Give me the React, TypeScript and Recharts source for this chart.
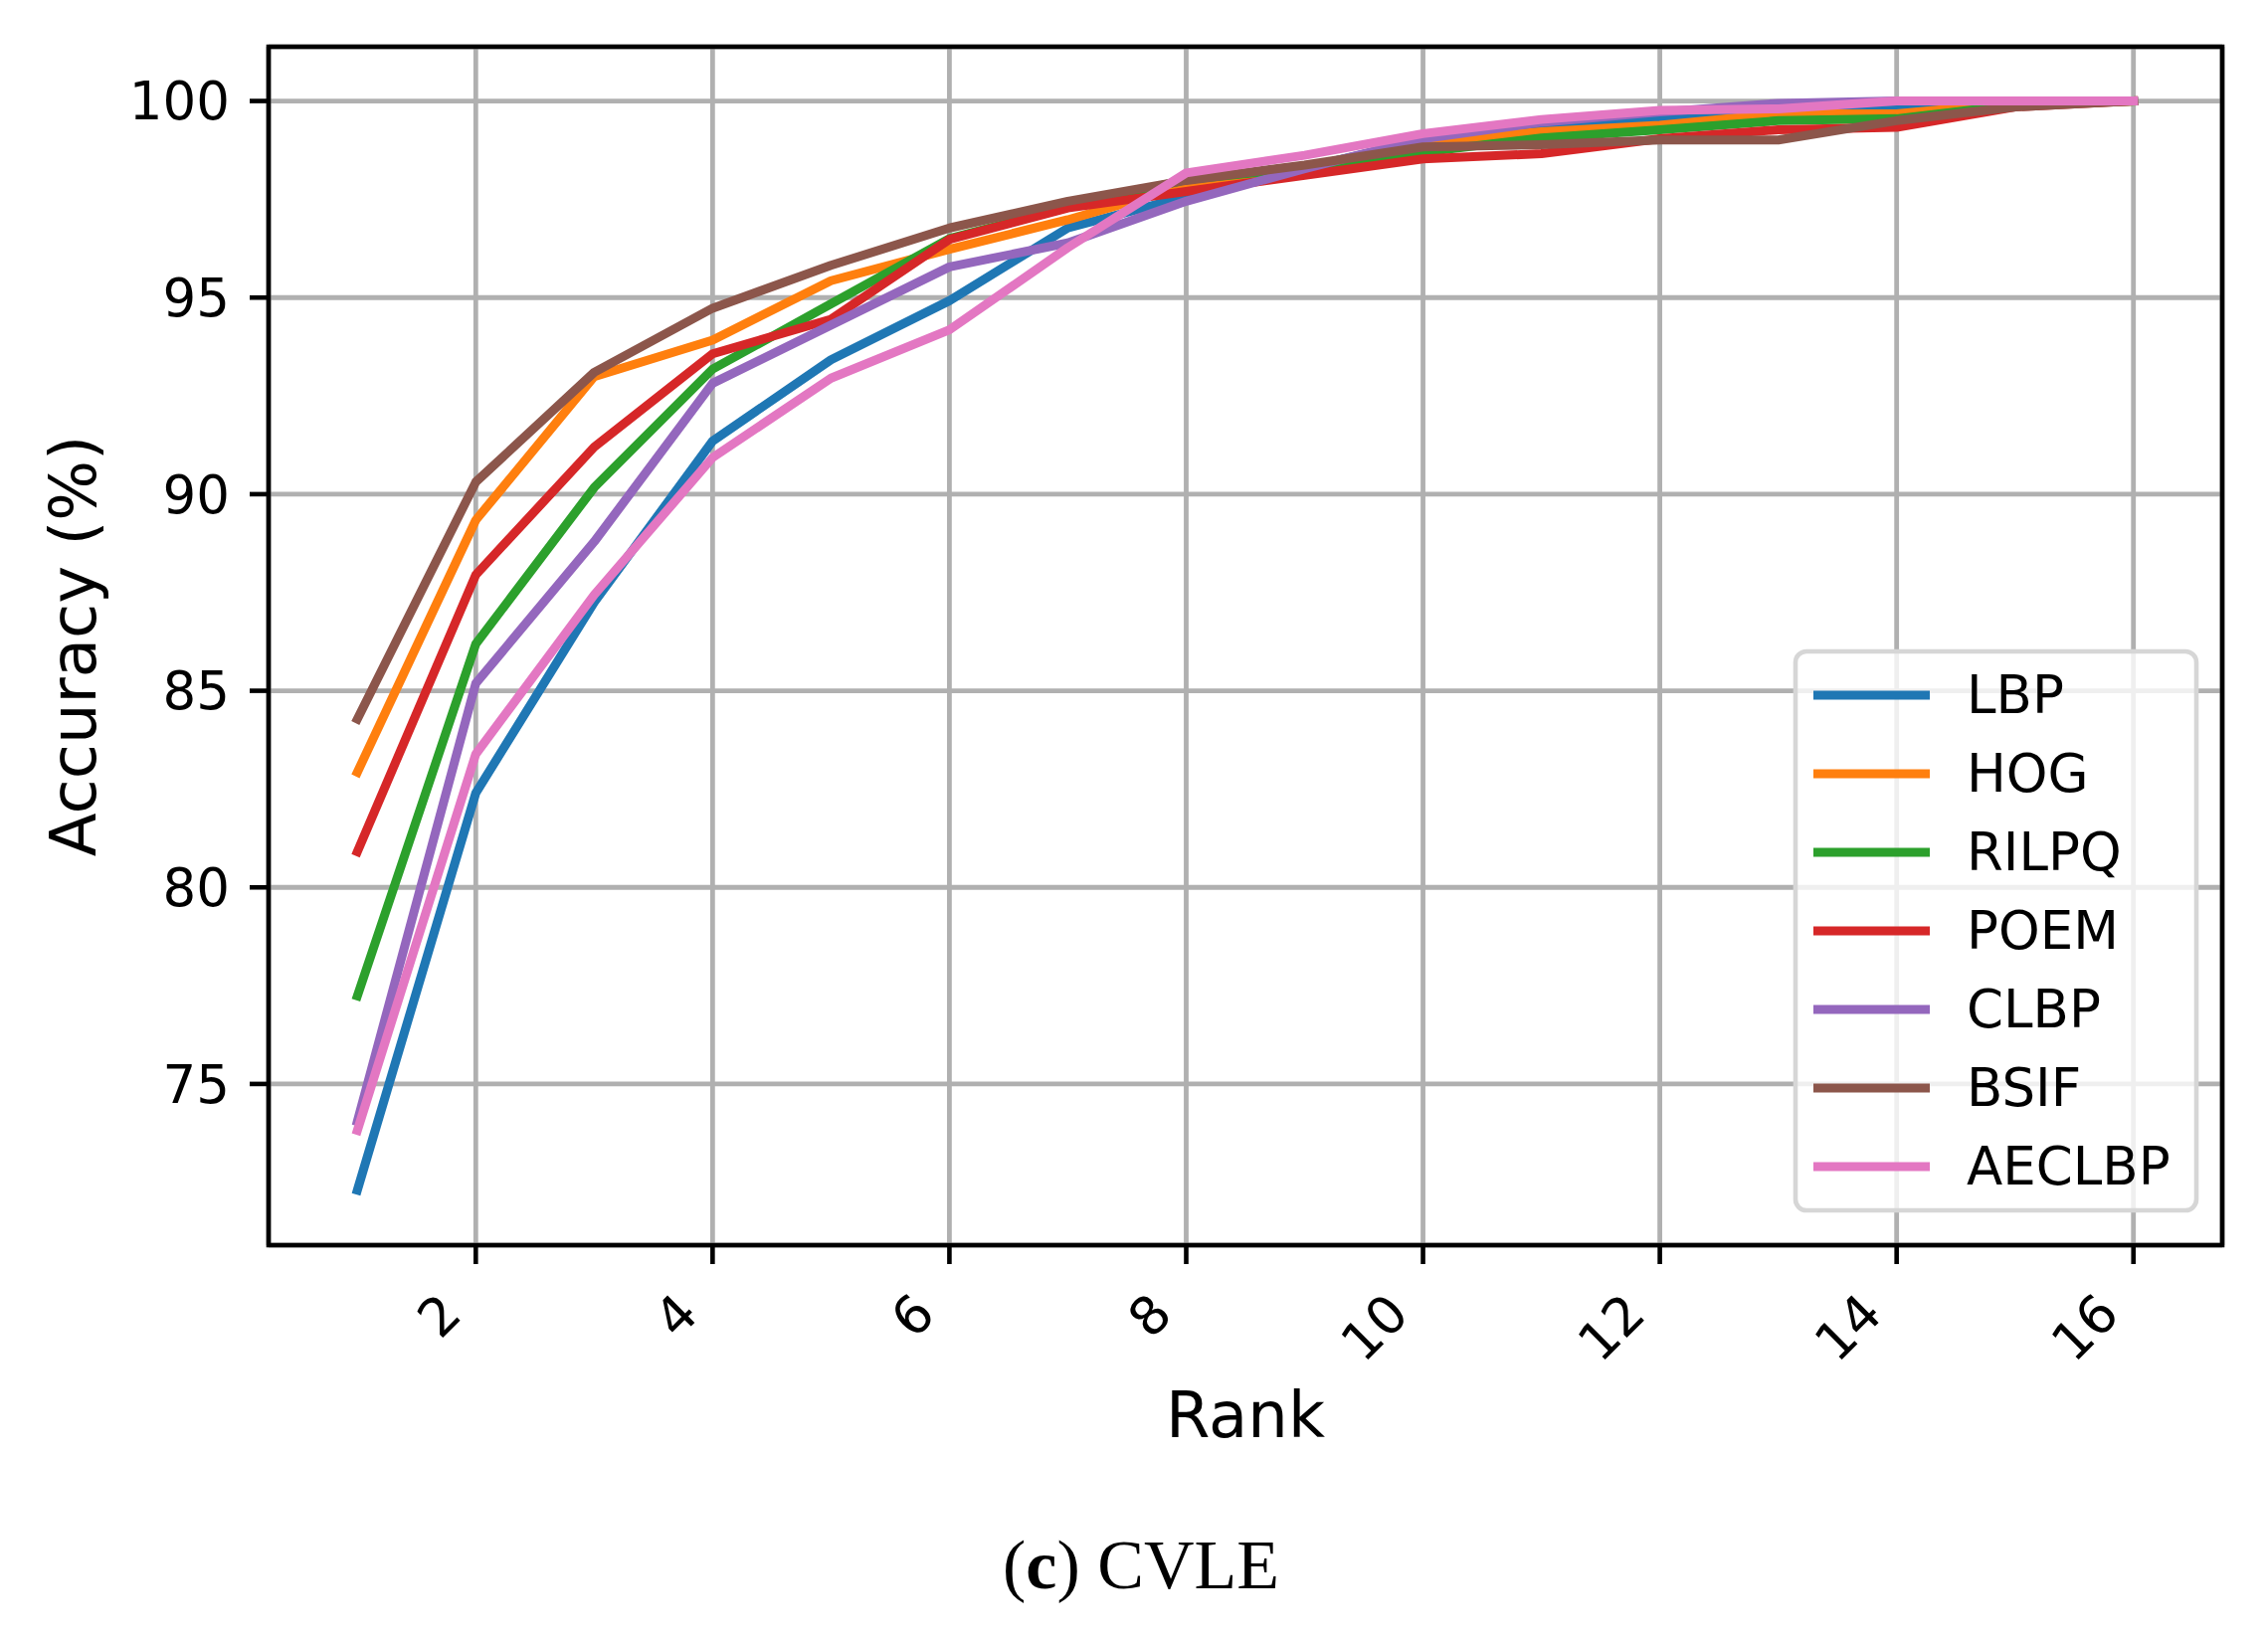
import { LineChart, Line, XAxis, YAxis, CartesianGrid, ReferenceArea } from 'recharts'

const ranks = [1, 2, 3, 4, 5, 6, 7, 8, 9, 10, 11, 12, 13, 14, 15, 16]

const lbp = [72.3, 82.4, 87.25, 91.35, 93.42, 94.92, 96.77, 97.57, 98.3, 99.0, 99.35, 99.55, 99.75, 99.82, 100, 100]
const hog = [82.93, 89.34, 92.99, 93.92, 95.43, 96.23, 96.98, 97.85, 98.3, 98.95, 99.22, 99.38, 99.67, 99.67, 99.95, 100]
const rilpq = [77.24, 86.19, 90.17, 93.18, 94.84, 96.5, 97.3, 98.0, 98.3, 98.7, 99.06, 99.27, 99.5, 99.55, 99.9, 100]
const poem = [80.91, 87.95, 91.2, 93.57, 94.45, 96.48, 97.28, 97.7, 98.11, 98.53, 98.66, 99.04, 99.27, 99.33, 99.85, 100]
const clbp = [74.05, 85.19, 88.79, 92.82, 94.3, 95.78, 96.39, 97.45, 98.28, 99.04, 99.46, 99.72, 99.94, 100, 100, 100]
const bsif = [84.28, 90.31, 93.1, 94.73, 95.82, 96.77, 97.45, 97.98, 98.37, 98.83, 98.89, 99.01, 99.01, 99.5, 99.85, 100]
const aeclbp = [73.82, 83.39, 87.44, 90.93, 92.95, 94.18, 96.27, 98.17, 98.62, 99.17, 99.53, 99.76, 99.8, 100, 100, 100]

const xTicks = [2, 4, 6, 8, 10, 12, 14, 16]
const yTicks = [75, 80, 85, 90, 95, 100]

const series = [
  { key: 'LBP', values: lbp, color: '#1f77b4' },
  { key: 'HOG', values: hog, color: '#ff7f0e' },
  { key: 'RILPQ', values: rilpq, color: '#2ca02c' },
  { key: 'POEM', values: poem, color: '#d62728' },
  { key: 'CLBP', values: clbp, color: '#9467bd' },
  { key: 'BSIF', values: bsif, color: '#8c564b' },
  { key: 'AECLBP', values: aeclbp, color: '#e377c2' },
]

const data = ranks.map((rank, i) => {
  const row: Record<string, number> = { rank }
  for (const s of series) row[s.key] = s.values[i]
  return row
})

const FONT = '"DejaVu Sans", sans-serif'
const X_DOMAIN: [number, number] = [0.25, 16.75]
const Y_DOMAIN: [number, number] = [70.9, 101.38]

function XTick({ x, y, payload }: any) {
  const ax = x - 12
  const ay = y + 53
  return (
    <text x={ax} y={ay} transform={`rotate(-45 ${ax} ${ay})`} textAnchor="end" fontSize={53} fontFamily={FONT} fill="#000">
      {payload.value}
    </text>
  )
}

function XLabel({ viewBox }: any) {
  const cx = viewBox.x + viewBox.width / 2
  return (
    <text x={cx} y={viewBox.y + 193} textAnchor="middle" fontSize={64} fontFamily={FONT} fill="#000">
      Rank
    </text>
  )
}

function YLabel({ viewBox }: any) {
  const cy = viewBox.y + viewBox.height / 2
  return (
    <text x={96} y={cy} transform={`rotate(-90 96 ${cy})`} textAnchor="middle" fontSize={64} fontFamily={FONT} fill="#000">
      Accuracy (%)
    </text>
  )
}

export default function App() {
  // legend box, drawn over the chart like matplotlib's framed legend
  const lgX = 1805
  const lgY = 655
  const rowGap = 79

  return (
    <div style={{ position: 'absolute', left: 0, top: 0, width: 2280, height: 1649, background: '#fff' }}>
      <LineChart width={2280} height={1649} data={data} margin={{ top: 47, right: 46, left: 0, bottom: 0 }}>
        <CartesianGrid stroke="#b0b0b0" strokeWidth={4.8} />
        <XAxis
          dataKey="rank"
          type="number"
          domain={X_DOMAIN}
          allowDataOverflow
          ticks={xTicks}
          height={397}
          tickSize={19}
          tickMargin={0}
          tickLine={{ stroke: '#000', strokeWidth: 4.6 }}
          axisLine={false}
          tick={<XTick />}
          label={<XLabel />}
        />
        <YAxis
          type="number"
          domain={Y_DOMAIN}
          allowDataOverflow
          ticks={yTicks}
          width={270}
          tickSize={19}
          tickMargin={20}
          tickLine={{ stroke: '#000', strokeWidth: 4.6 }}
          axisLine={false}
          tick={{ fontSize: 53, fontFamily: FONT, fill: '#000' }}
          label={<YLabel />}
        />
        {series.map((s) => (
          <Line
            key={s.key}
            dataKey={s.key}
            type="linear"
            stroke={s.color}
            strokeWidth={9}
            strokeLinejoin="round"
            strokeLinecap="square"
            dot={false}
            activeDot={false}
            isAnimationActive={false}
          />
        ))}
        <ReferenceArea
          x1={X_DOMAIN[0]}
          x2={X_DOMAIN[1]}
          y1={Y_DOMAIN[0]}
          y2={Y_DOMAIN[1]}
          fill="none"
          stroke="#000"
          strokeWidth={4.6}
          ifOverflow="visible"
        />
      </LineChart>
      <svg width={2280} height={1649} style={{ position: 'absolute', left: 0, top: 0, pointerEvents: 'none' }}>
        <rect x={lgX} y={lgY} width={403} height={562} rx={11} fill="#fff" fillOpacity={0.8} stroke="#d6d6d6" strokeWidth={4.6} />
        {series.map((s, i) => {
          const ly = 699 + i * rowGap
          return (
            <g key={s.key}>
              <line x1={1823} x2={1940} y1={ly} y2={ly} stroke={s.color} strokeWidth={9} />
              <text x={1977} y={ly + 18} fontSize={53} fontFamily={FONT} fill="#000">
                {s.key}
              </text>
            </g>
          )
        })}
        <text x={1008} y={1597} fontSize={70} fontFamily='"Liberation Serif", serif' fill="#000">
          (<tspan fontWeight="bold">c</tspan>) CVLE
        </text>
      </svg>
    </div>
  )
}
